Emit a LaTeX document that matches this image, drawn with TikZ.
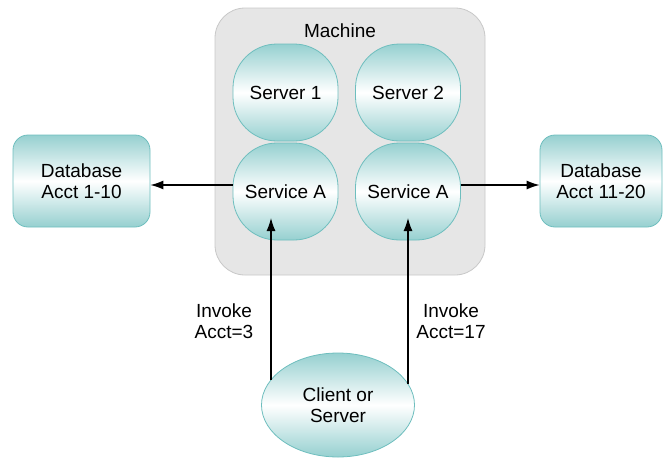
\documentclass[tikz,border=0pt]{standalone}
\usepackage{fontspec}
\setmainfont{Liberation Sans}
\usetikzlibrary{arrows.meta,shapes.geometric}
\definecolor{tealedge}{RGB}{110,190,190}
\definecolor{tealfill}{RGB}{150,208,208}
\definecolor{machfill}{RGB}{230,230,230}
\definecolor{machedge}{RGB}{200,200,200}
\tikzset{
  txt/.style={font=\fontsize{19}{21}\selectfont, align=center},
  tealshade/.style={draw=tealedge, line width=0.8pt, top color=tealfill, bottom color=tealfill, middle color=white},
  proc/.style={tealshade, rectangle, rounded corners=44pt, minimum width=105pt, minimum height=97pt, inner sep=0pt, txt},
  dbase/.style={tealshade, rectangle, rounded corners=15pt, minimum height=92pt, inner sep=0pt, txt},
  machine/.style={draw=machedge, fill=machfill, line width=0.8pt, rounded corners=30pt},
  arr/.style={-{Latex[length=13pt,width=9pt]}, line width=1.2pt, black},
}
\begin{document}
\begin{tikzpicture}[x=1pt,y=-1pt]
\useasboundingbox (0,0) rectangle (667,459);
\draw[machine] (215,8) rectangle (485,275);
\node[txt] (mlabel) at (340,31) {Machine};
\node[proc] (s1) at (285.5,92.5) {Server 1};
\node[proc] (s2) at (408,92.5) {Server 2};
\node[proc] (sa1) at (285.5,191.5) {Service A};
\node[proc] (sa2) at (408,191.5) {Service A};
\node[dbase, minimum width=137pt] (db1) at (81.5,181) {Database\\Acct 1-10};
\node[dbase, minimum width=122pt] (db2) at (601,181) {Database\\Acct 11-20};
\node[tealshade, ellipse, minimum width=153pt, minimum height=104pt, inner sep=0pt, txt] (cl) at (338,405) {Client or\\Server};
\coordinate (h) at (0,185);
\draw[arr] (sa1.west |- h) -- (db1.east |- h);
\draw[arr] (sa2.east |- h) -- (db2.west |- h);
\coordinate (c1) at (271,380);
\coordinate (c2) at (408,384);
\coordinate (t1) at (271,218);
\coordinate (t2) at (408,218);
\draw[arr] (c1) -- (t1);
\draw[arr] (c2) -- (t2);
\node[txt] (l1) at (224,321) {Invoke\\Acct=3};
\node[txt] (l2) at (451,321) {Invoke\\Acct=17};
\end{tikzpicture}
\end{document}
